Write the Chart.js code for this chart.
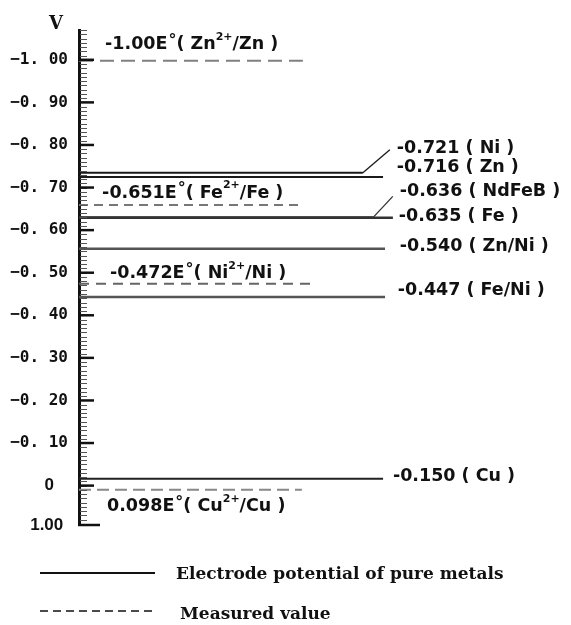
<!DOCTYPE html>
<html>
<head>
<meta charset="utf-8">
<script src="https://cdn.jsdelivr.net/npm/chart.js@4.4.0/dist/chart.umd.min.js"></script>
<style>
html,body{margin:0;padding:0;background:#fff;}
#wrap{width:571px;height:625px;position:relative;}
</style>
</head>
<body>
<div id="wrap"><canvas id="c" width="571" height="625"></canvas></div>
<script>
// ---------- DATA ----------
// Electrode potentials of the pure metals (solid lines): name, printed label, position read on the axis (V)
const metals = ["Ni", "Zn", "NdFeB", "Fe", "Zn/Ni", "Fe/Ni", "Cu"];
const metalLabels = ["-0.721 ( Ni )", "-0.716 ( Zn )", "-0.636 ( NdFeB )", "-0.635 ( Fe )", "-0.540 ( Zn/Ni )", "-0.447 ( Fe/Ni )", "-0.150 ( Cu )"];
const metalPotential = [-0.735, -0.725, -0.630, -0.629, -0.556, -0.443, -0.016];

// Measured standard potentials (dashed lines)
const couples = ["Zn2+/Zn", "Fe2+/Fe", "Ni2+/Ni", "Cu2+/Cu"];
const coupleLabels = ["-1.00E^°^( Zn^2+^/Zn )", "-0.651E^°^( Fe^2+^/Fe )", "-0.472E^°^( Ni^2+^/Ni )", "0.098E^°^( Cu^2+^/Cu )"];
const couplePotential = [-0.998, -0.659, -0.474, 0.010];

// Axis ticks
const yMin = -1.07, yMax = 0.0925;
const tickValues = [-1.0, -0.9, -0.8, -0.7, -0.6, -0.5, -0.4, -0.3, -0.2, -0.1, 0, yMax];
const tickLabels = ["\u22121. 00", "\u22120. 90", "\u22120. 80", "\u22120. 70", "\u22120. 60", "\u22120. 50", "\u22120. 40", "\u22120. 30", "\u22120. 20", "\u22120. 10", "0   ", "1.00 "];

// ---------- LAYOUT / STYLE (not data) ----------
const metalLineEnd = [57.7, 61.8, 59.8, 63.8, 62.2, 62.2, 61.8];     // x units (0..100)
const metalColor   = ["#1a1a1a", "#1a1a1a", "#333", "#333", "#555", "#555", "#222"];
const metalWidth   = [2, 2, 2, 2.5, 2.5, 2.5, 2];
const metalLabelX  = [64.6, 64.6, 65.2, 65.0, 65.2, 64.8, 63.8];
const metalLabelDy = [-24, -9, -26, -1, -2, -7, -2];
const metalLeader  = [[-7, 1], null, [-7, 5], null, null, null, null];

const coupleLineEnd = [45.5, 45.5, 47.4, 45.3];
const coupleColor   = ["#808080", "#777", "#666", "#888"];
const coupleDash    = [[14, 7], [9, 6], [10, 7], [12, 6]];
const coupleLabelX  = [5.3, 4.7, 6.3, 5.7];
const coupleLabelDy = [-16, -12, -10, 17];

const TXT = "#111";
const LABEL_FONT = '"DejaVu Sans"';

// ---------- DATASETS ----------
const datasets = [];
metals.forEach((m, i) => {
  datasets.push({
    label: m,
    data: [{x: 0, y: metalPotential[i]}, {x: metalLineEnd[i], y: metalPotential[i]}],
    borderColor: metalColor[i], borderWidth: metalWidth[i],
    pointRadius: 0, fill: false, tension: 0
  });
});
couples.forEach((c, i) => {
  datasets.push({
    label: c,
    data: [{x: 0, y: couplePotential[i]}, {x: coupleLineEnd[i], y: couplePotential[i]}],
    borderColor: coupleColor[i], borderWidth: 2, borderDash: coupleDash[i],
    pointRadius: 0, fill: false, tension: 0
  });
});

function drawRich(ctx, str, x, y, size) {
  const parts = str.split('^');
  let cx = x;
  ctx.textAlign = 'left';
  ctx.textBaseline = 'middle';
  parts.forEach((p, i) => {
    const sup = i % 2 === 1;
    const deg = sup && p === '°';
    ctx.font = 'bold ' + (deg ? 16 : (sup ? 11 : size)) + 'px ' + LABEL_FONT;
    ctx.fillText(p, cx + (deg ? 1 : 0), sup ? y - (deg ? 4 : 8) : y);
    cx += ctx.measureText(p).width + (deg ? 1 : 0);
  });
}

const overlay = {
  id: 'overlay',
  afterDraw(chart) {
    const ctx = chart.ctx, xs = chart.scales.x, ys = chart.scales.y;
    const ax = ys.right;
    ctx.save();
    // minor ticks (every 0.01 V)
    ctx.strokeStyle = '#555'; ctx.lineWidth = 1;
    for (let k = Math.ceil(yMin * 100); k <= Math.floor(yMax * 100); k++) {
      const py = Math.round(ys.getPixelForValue(k / 100)) + 0.5;
      ctx.beginPath(); ctx.moveTo(ax + 1, py); ctx.lineTo(ax + 8, py); ctx.stroke();
    }
    // major ticks
    ctx.strokeStyle = '#111'; ctx.lineWidth = 2.5;
    tickValues.forEach((v, i) => {
      const py = ys.getPixelForValue(v);
      const len = (i === tickValues.length - 1) ? 21 : 15;
      ctx.beginPath(); ctx.moveTo(ax - 1, py); ctx.lineTo(ax + len, py); ctx.stroke();
    });
    // "V" unit
    ctx.fillStyle = TXT;
    ctx.font = 'bold 18px "DejaVu Serif"';
    ctx.textAlign = 'center'; ctx.textBaseline = 'middle';
    ctx.fillText('V', ax - 23, ys.top - 6);

    // metal labels + leaders
    metals.forEach((m, i) => {
      const ly = ys.getPixelForValue(metalPotential[i]);
      const lx = xs.getPixelForValue(metalLabelX[i]);
      const ty = ly + metalLabelDy[i];
      if (metalLeader[i]) {
        ctx.strokeStyle = metalColor[i]; ctx.lineWidth = 1.3;
        ctx.beginPath();
        ctx.moveTo(xs.getPixelForValue(metalLineEnd[i]), ly);
        ctx.lineTo(lx + metalLeader[i][0], ty + metalLeader[i][1]);
        ctx.stroke();
      }
      ctx.fillStyle = TXT;
      drawRich(ctx, metalLabels[i], lx, ty, 17.5);
    });
    // measured labels
    couples.forEach((c, i) => {
      const ly = ys.getPixelForValue(couplePotential[i]);
      const lx = xs.getPixelForValue(coupleLabelX[i]);
      ctx.fillStyle = TXT;
      drawRich(ctx, coupleLabels[i], lx, ly + coupleLabelDy[i], 17.5);
    });

    // legend
    ctx.strokeStyle = '#111'; ctx.lineWidth = 2; ctx.setLineDash([]);
    ctx.beginPath(); ctx.moveTo(40, 573); ctx.lineTo(155, 573); ctx.stroke();
    ctx.lineWidth = 1.6; ctx.setLineDash([8, 5]);
    ctx.beginPath(); ctx.moveTo(40, 611); ctx.lineTo(155, 611); ctx.stroke();
    ctx.setLineDash([]);
    ctx.fillStyle = TXT;
    ctx.font = 'bold 17px "DejaVu Serif"';
    ctx.textAlign = 'left'; ctx.textBaseline = 'middle';
    ctx.fillText('Electrode potential of pure metals', 176, 575);
    ctx.fillText('Measured value', 180, 615);
    ctx.restore();
  }
};

new Chart(document.getElementById('c'), {
  type: 'line',
  data: { datasets },
  options: {
    responsive: false,
    devicePixelRatio: 1,
    animation: false,
    layout: { padding: { top: 30, bottom: 100, left: 0, right: 0 } },
    plugins: { legend: { display: false }, tooltip: { enabled: false }, title: { display: false } },
    scales: {
      x: { type: 'linear', min: 0, max: 100, display: false },
      y: {
        type: 'linear', min: yMin, max: yMax, reverse: true,
        afterFit: s => { s.width = 79; },
        afterBuildTicks: s => { s.ticks = tickValues.map(v => ({ value: v })); },
        grid: { drawOnChartArea: false, drawTicks: false, color: 'rgba(0,0,0,0)' },
        border: { display: true, width: 3, color: '#111' },
        ticks: {
          padding: 11,
          color: TXT,
          autoSkip: false,
          callback: (v, i) => tickLabels[i],
          font: c => (c.index >= 10)
            ? { family: '"Liberation Sans"', size: 17, weight: 'bold' }
            : { family: '"DejaVu Sans Mono"', size: 16, weight: 'bold' }
        }
      }
    }
  },
  plugins: [overlay]
});
</script>
</body>
</html>
